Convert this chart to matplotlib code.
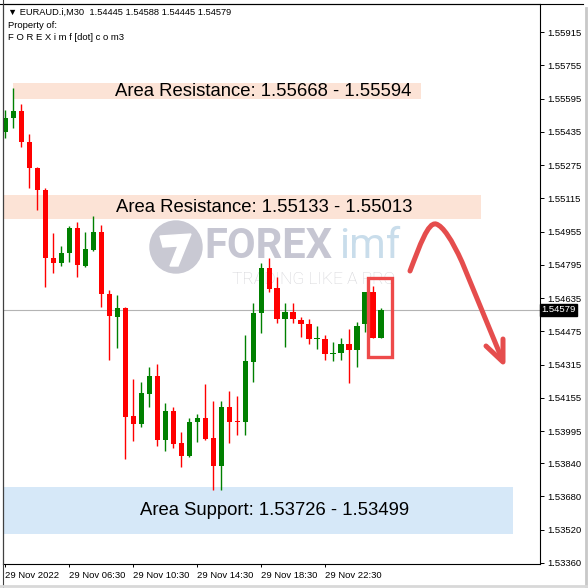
import numpy as np
import matplotlib.pyplot as plt
from matplotlib.patches import Rectangle, Circle, PathPatch, Polygon
from matplotlib.path import Path
from matplotlib.lines import Line2D

# EURAUD M30 candles
opens = [1.55434, 1.55501, 1.55535, 1.55386, 1.55261, 1.55155, 1.54827, 1.54803,
         1.54852, 1.54972, 1.54789, 1.54866, 1.54953, 1.54654, 1.54544, 1.54587,
         1.54067, 1.54029, 1.54173, 1.54260, 1.53952, 1.54091, 1.53937, 1.53875,
         1.54038, 1.54057, 1.53961, 1.53826, 1.54110, 1.54043, 1.54038, 1.54327,
         1.54563, 1.54779, 1.54683, 1.54534, 1.54568, 1.54529, 1.54510, 1.54438,
         1.54438, 1.54365, 1.54370, 1.54414, 1.54385, 1.54510, 1.54664, 1.54445]
highs = [1.55540, 1.55646, 1.55569, 1.55424, 1.55265, 1.55164, 1.54948, 1.54885,
         1.54981, 1.55001, 1.54953, 1.55030, 1.54986, 1.54673, 1.54649, 1.54592,
         1.54245, 1.54231, 1.54303, 1.54317, 1.54130, 1.54110, 1.53990, 1.54057,
         1.54077, 1.54221, 1.54139, 1.54139, 1.54187, 1.54163, 1.54457, 1.54611,
         1.54803, 1.54827, 1.54736, 1.54611, 1.54611, 1.54544, 1.54534, 1.54500,
         1.54457, 1.54423, 1.54442, 1.54486, 1.54519, 1.54664, 1.54693, 1.54588]
lows = [1.55405, 1.55453, 1.55362, 1.55164, 1.55058, 1.54688, 1.54755, 1.54789,
        1.54808, 1.54736, 1.54784, 1.54861, 1.54592, 1.54337, 1.54394, 1.53860,
        1.53947, 1.54014, 1.54110, 1.53923, 1.53899, 1.53913, 1.53822, 1.53870,
        1.53942, 1.53952, 1.53711, 1.53711, 1.53937, 1.53976, 1.53976, 1.54231,
        1.54467, 1.54664, 1.54515, 1.54399, 1.54515, 1.54447, 1.54414, 1.54390,
        1.54337, 1.54332, 1.54337, 1.54226, 1.54303, 1.54471, 1.54442, 1.54445]
closes = [1.55501, 1.55535, 1.55386, 1.55261, 1.55155, 1.54827, 1.54803, 1.54852,
          1.54972, 1.54794, 1.54871, 1.54953, 1.54654, 1.54548, 1.54587, 1.54062,
          1.54029, 1.54178, 1.54260, 1.53952, 1.54091, 1.53932, 1.53875, 1.54038,
          1.54057, 1.53956, 1.53826, 1.54110, 1.54038, 1.54038, 1.54332, 1.54563,
          1.54779, 1.54678, 1.54534, 1.54568, 1.54534, 1.54510, 1.54438, 1.54442,
          1.54365, 1.54370, 1.54414, 1.54385, 1.54500, 1.54664, 1.54445, 1.54579]

# zones: (low, high, first bar, last bar, label, label centre bar, colour)
zones = [
    (1.55594, 1.55668, 1.0, 52.0, "Area Resistance: 1.55668 - 1.55594", 32.3, "#fce3d6"),
    (1.55013, 1.55133, -0.5, 59.5, "Area Resistance: 1.55133 - 1.55013", 32.4, "#fce3d6"),
    (1.53499, 1.53726, -0.5, 63.5, "Area Support: 1.53726 - 1.53499", 33.7, "#d6e8f8"),
]

yticks = [1.55915, 1.55755, 1.55595, 1.55435, 1.55275, 1.55115, 1.54955, 1.54795,
          1.54635, 1.54475, 1.54315, 1.54155, 1.53995, 1.53840, 1.53680, 1.53520,
          1.53360]
xtick_pos = [0, 8, 16, 24, 32, 40]
xtick_labels = ["29 Nov 2022", "29 Nov 06:30", "29 Nov 10:30", "29 Nov 14:30",
                "29 Nov 18:30", "29 Nov 22:30"]
last_price = 1.54579
header = "\u25bc EURAUD.i,M30  1.54445 1.54588 1.54445 1.54579"

FONT = ["Liberation Sans", "DejaVu Sans"]
plt.rcParams["font.family"] = FONT

W = 588.0
fig = plt.figure(figsize=(5.88, 5.88), dpi=100)
ax = fig.add_axes([3 / W, 24 / W, 537 / W, 560 / W])
ax.set_xlim(-0.3, 66.9)
ax.set_ylim(1.53355, 1.56050)


def fpx(x, y):
    # figure pixel (from top-left) -> figure fraction
    return (x / W, 1 - y / W)


# watermark behind everything
tf = fig.transFigure
ax.add_patch(Circle(fpx(176, 247), 26 / W, transform=tf, color="#c9c9d3", zorder=0.5))
ax.add_patch(Polygon([fpx(160, 236), fpx(191, 234), fpx(178, 266), fpx(170, 266),
                      fpx(178, 246), fpx(163, 247)], closed=True, transform=tf,
                     color="white", zorder=0.6))
ax.text(*fpx(204, 246), "FOREX", transform=tf, fontsize=30, fontweight="bold",
        family="Roboto", color="#c6c6d2", va="center", ha="left", zorder=0.6)
ax.text(*fpx(339, 246), "imf", transform=tf, fontsize=30, family="Roboto",
        color="#c9ddeb", va="center", ha="left", zorder=0.6)
ax.text(*fpx(232, 280), "TRADING LIKE A PRO", transform=tf, fontsize=12.5,
        family="Roboto", fontweight="light", color="#d4d4d8", va="center",
        ha="left", zorder=0.6)

for lo, hi, x0, x1, label, lx, col in zones:
    ax.add_patch(Rectangle((x0, lo), x1 - x0, hi - lo, color=col, lw=0, zorder=1))
    ax.text(lx, (lo + hi) / 2, label, fontsize=13.3, color="black", va="center",
            ha="center", zorder=4)

ax.axhline(last_price, color="#b4b4b4", lw=0.8, zorder=2)

x = np.arange(len(opens))
o = np.array(opens)
c = np.array(closes)
cols = np.where(c >= o, "#008000", "#ff0000")
ax.vlines(x, lows, highs, colors=cols, lw=1.0, zorder=3)
body = np.abs(c - o)
body = np.maximum(body, 0.00004)
ax.bar(x, body, bottom=np.minimum(o, c), width=0.65, color=cols, lw=0, zorder=3)

# highlight box around the last two candles
ax.add_patch(Rectangle((45.4, 1.54352), 3.0, 0.00380, fill=False,
                       edgecolor="#ee4a4a", lw=2.4, zorder=5))

# hand-drawn bearish arrow
arrow_col = "#e54d4d"
verts = [fpx(410, 271), fpx(420, 245), fpx(428, 222), fpx(436, 224),
         fpx(443, 226), fpx(452, 240), fpx(462, 262), fpx(502, 359)]
codes = [Path.MOVETO, Path.CURVE4, Path.CURVE4, Path.CURVE4,
         Path.CURVE4, Path.CURVE4, Path.CURVE4, Path.LINETO]
ax.add_patch(PathPatch(Path(verts, codes), transform=tf, fill=False,
                       edgecolor=arrow_col, lw=3.6, capstyle="round", zorder=6,
                       clip_on=False))
hx, hy = zip(fpx(486, 346), fpx(503, 362), fpx(503, 339))
ax.add_line(Line2D(hx, hy, transform=tf, color=arrow_col, lw=3.6,
                   solid_capstyle="round", solid_joinstyle="round", zorder=6))

# axes styling like the terminal
for s in ax.spines.values():
    s.set_linewidth(0.8)
    s.set_color("black")
ax.yaxis.tick_right()
ax.set_yticks(yticks)
ax.set_yticklabels([f"{v:.5f}" for v in yticks])
ax.tick_params(axis="y", direction="out", length=3, width=0.7, labelsize=6.8,
               pad=2)
ax.set_xticks(xtick_pos)
ax.set_xticklabels(xtick_labels)
for t in ax.get_xticklabels():
    t.set_ha("left")
ax.tick_params(axis="x", direction="out", length=2.5, width=0.7, labelsize=6.8,
               pad=2.5)

# current price tag
ax.text(1.003, last_price, f"{last_price:.5f}", transform=ax.get_yaxis_transform(),
        fontsize=6.8, color="white", va="center", ha="left", zorder=7,
        bbox=dict(boxstyle="square,pad=0.15", fc="black", ec="black"),
        clip_on=False)

# header text
fig.text(*fpx(8, 12), header, fontsize=6.7, va="center", ha="left",
         family=["Liberation Sans", "DejaVu Sans"])
fig.text(*fpx(8, 25), "Property of:", fontsize=6.8, va="center", ha="left")
fig.text(*fpx(8, 37), "F O R E X i m f [dot] c o m3", fontsize=6.8, va="center",
         ha="left")

# window borders
fig.add_artist(Line2D([0, 583 / W], [1 - 4 / W] * 2, color="black", lw=0.8))
fig.add_artist(Line2D([2.5 / W] * 2, [0, 1], color="#404040", lw=0.8))
fig.add_artist(Line2D([585.5 / W] * 2, [0, 1 - 8 / W], color="#c8c8c8", lw=2))
fig.add_artist(Line2D([0, 1], [2.5 / W] * 2, color="#d8d8d8", lw=2))

fig.savefig("out.png", dpi=100)
